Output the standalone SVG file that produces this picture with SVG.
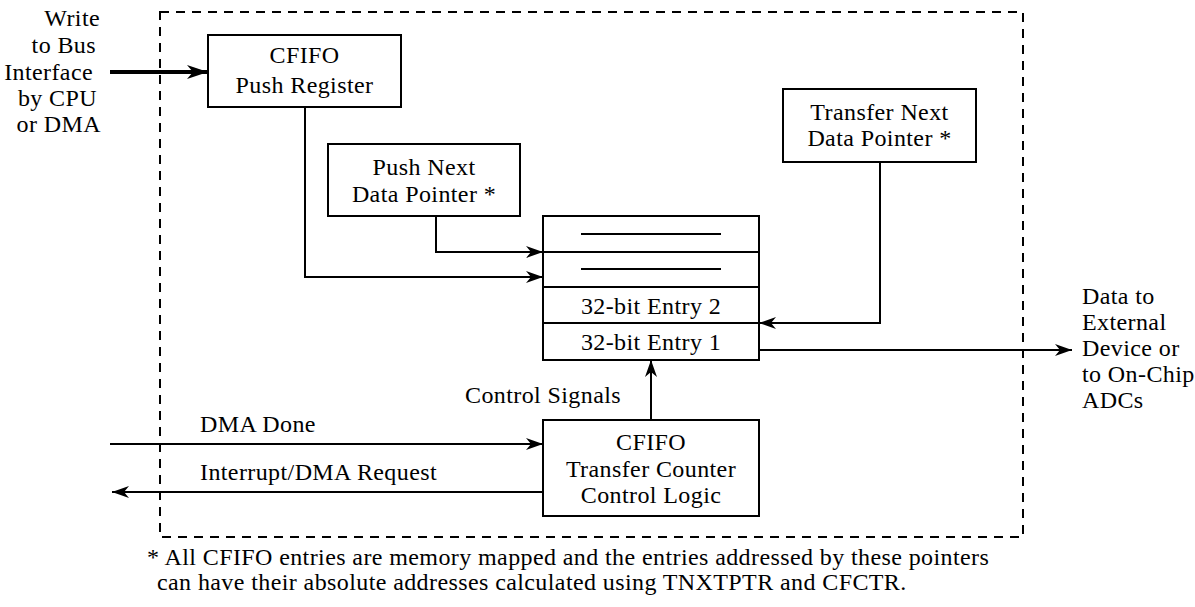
<svg xmlns="http://www.w3.org/2000/svg" width="1195" height="607" viewBox="0 0 1195 607">
<style>
text{font-family:"Liberation Serif","Times New Roman",Times,"DejaVu Serif",serif;font-size:24px;letter-spacing:0.4px;fill:#000}
.c{text-anchor:middle}
.e{text-anchor:end}
.box{fill:#fff;stroke:#000;stroke-width:2}
.ln{fill:none;stroke:#000;stroke-width:2}
.dash{fill:none;stroke:#000;stroke-width:2;stroke-dasharray:9 7}
</style>
<defs>
<marker id="ah" markerUnits="userSpaceOnUse" markerWidth="18" markerHeight="12" refX="17" refY="6" orient="auto">
<path d="M0,0 L17,6 L0,12 L5,6 z" fill="#000"/>
</marker>
<marker id="ahb" markerUnits="userSpaceOnUse" markerWidth="22" markerHeight="14" refX="21" refY="7" orient="auto">
<path d="M0,0 L21,7 L0,14 L6,7 z" fill="#000"/>
</marker>
</defs>
<rect class="dash" x="160" y="12" width="863" height="525"/>
<g id="connectors">
<line x1="110" y1="72" x2="208" y2="72" stroke="#000" stroke-width="4" marker-end="url(#ahb)"/>
<polyline class="ln" points="305,107 305,277 543,277" marker-end="url(#ah)"/>
<polyline class="ln" points="436,216 436,252 543,252" marker-end="url(#ah)"/>
<polyline class="ln" points="880,162 880,323 759,323" marker-end="url(#ah)"/>
<line class="ln" x1="759" y1="350" x2="1072" y2="350" marker-end="url(#ah)"/>
<line class="ln" x1="651" y1="420" x2="651" y2="360" marker-end="url(#ah)"/>
<line class="ln" x1="110" y1="444" x2="543" y2="444" marker-end="url(#ah)"/>
<line class="ln" x1="543" y1="492" x2="112" y2="492" marker-end="url(#ah)"/>
</g>
<g id="write-label">
<text class="e" x="100" y="26">Write</text>
<text class="e" x="96" y="53">to Bus</text>
<text class="e" x="93" y="80">Interface</text>
<text class="e" x="97" y="106">by CPU</text>
<text class="e" x="101" y="132">or DMA</text>
</g>
<g id="push-register">
<rect class="box" x="208" y="35" width="193" height="72"/>
<text class="c" x="304.5" y="63">CFIFO</text>
<text class="c" x="304.5" y="93">Push Register</text>
</g>
<g id="push-next">
<rect class="box" x="328" y="144" width="192" height="72"/>
<text class="c" x="424" y="175">Push Next</text>
<text class="c" x="424" y="202">Data Pointer *</text>
</g>
<g id="transfer-next">
<rect class="box" x="783" y="89" width="193" height="73"/>
<text class="c" x="879.5" y="120">Transfer Next</text>
<text class="c" x="879.5" y="146">Data Pointer *</text>
</g>
<g id="fifo">
<rect class="box" x="543" y="216" width="216" height="144"/>
<line class="ln" x1="543" y1="252" x2="759" y2="252"/>
<line class="ln" x1="543" y1="287" x2="759" y2="287"/>
<line class="ln" x1="543" y1="323" x2="759" y2="323"/>
<line class="ln" x1="581" y1="234" x2="721" y2="234"/>
<line class="ln" x1="581" y1="269" x2="721" y2="269"/>
<text class="c" x="651" y="314">32-bit Entry 2</text>
<text class="c" x="651" y="350">32-bit Entry 1</text>
</g>
<g id="transfer-control">
<rect class="box" x="543" y="420" width="216" height="96"/>
<text class="c" x="651" y="450">CFIFO</text>
<text class="c" x="651" y="477">Transfer Counter</text>
<text class="c" x="651" y="503">Control Logic</text>
</g>
<g id="labels">
<text class="e" x="621" y="403">Control Signals</text>
<text x="200" y="432">DMA Done</text>
<text x="200" y="480">Interrupt/DMA Request</text>
</g>
<g id="output-label">
<text x="1082" y="304">Data to</text>
<text x="1082" y="330">External</text>
<text x="1082" y="356">Device or</text>
<text x="1082" y="382">to On-Chip</text>
<text x="1082" y="408">ADCs</text>
</g>
<g id="footnote">
<text x="147" y="565">* All CFIFO entries are memory mapped and the entries addressed by these pointers</text>
<text x="157" y="590">can have their absolute addresses calculated using TNXTPTR and CFCTR.</text>
</g>
</svg>
